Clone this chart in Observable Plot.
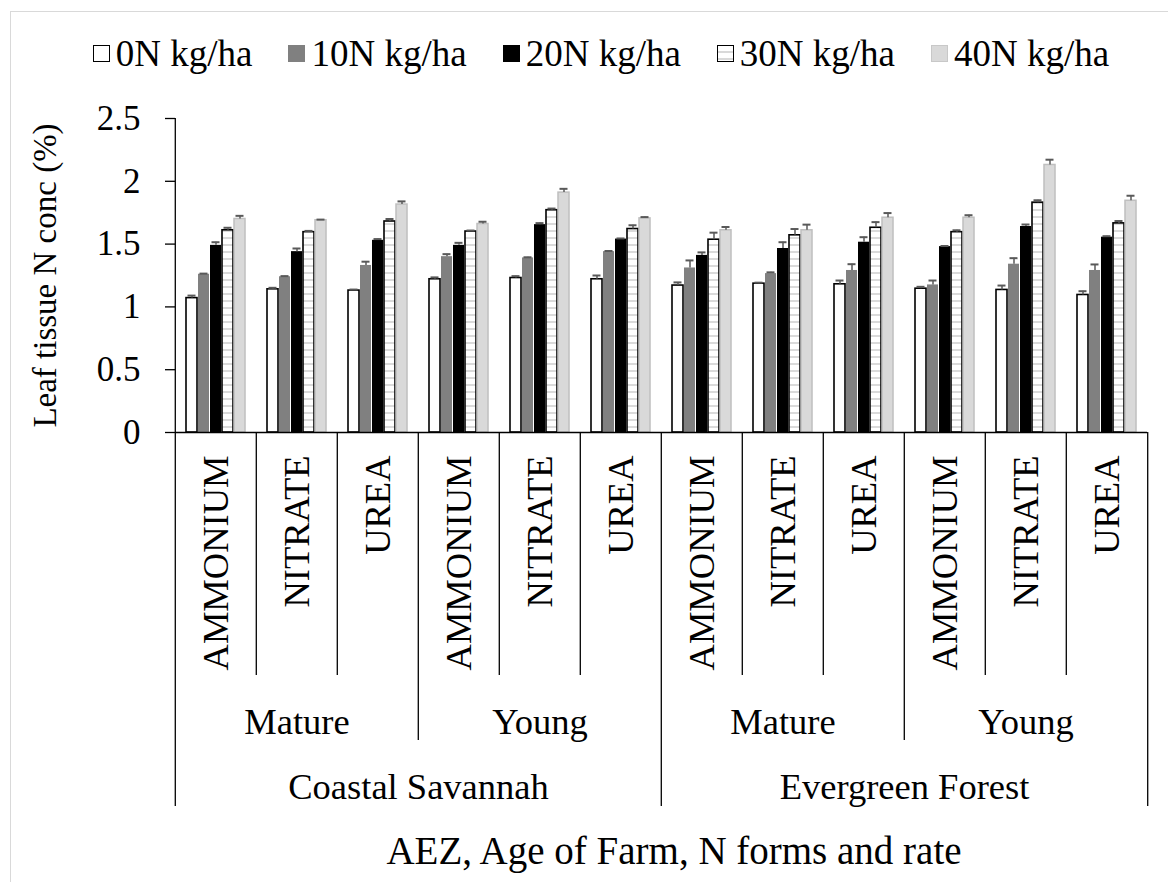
<!DOCTYPE html>
<html>
<head>
<meta charset="utf-8">
<script src="https://cdn.jsdelivr.net/npm/d3@7"></script>
<script src="https://cdn.jsdelivr.net/npm/@observablehq/plot@0.6"></script>
<style>
  html, body { margin: 0; padding: 0; background: #fff; overflow: hidden; }
  body { width: 1168px; height: 882px; position: relative; font-family: "Liberation Serif", "Times New Roman", serif; color: #000; }
  #border { position: absolute; left: 10px; top: 11px; width: 1300px; height: 1000px; border: 1px solid #d9d9d9; pointer-events: none; }
  #legend { position: relative; width: 1202px; height: 80px; padding-top: 26px; box-sizing: border-box; display: flex; align-items: center; justify-content: center; font-size: 37px; line-height: 1; }
  #legend .item { display: flex; align-items: center; margin: 0 18px; white-space: nowrap; }
  #legend .sw { width: 17px; height: 17px; margin-right: 6px; box-sizing: border-box; }
  #chart svg { display: block; }
  #caption { height: 62px; line-height: 62px; padding-left: 180px; width: 1168px; box-sizing: border-box; text-align: center; font-size: 39px; }
</style>
</head>
<body>
<div id="border"></div>
<div id="legend"></div>
<div id="chart"></div>
<div id="caption">AEZ, Age of Farm, N forms and rate</div>
<script>
// Category hierarchy: agro-ecological zone > age of farm > N form
const zones = ["Coastal Savannah", "Evergreen Forest"];
const ages = ["Mature", "Young"];
const forms = ["AMMONIUM", "NITRATE", "UREA"];
const rates = ["0N kg/ha", "10N kg/ha", "20N kg/ha", "30N kg/ha", "40N kg/ha"];
const yTicks = [0, 0.5, 1, 1.5, 2, 2.5];

// Mean leaf tissue N (%) per rate, over the 12 zone × age × form groups
const n0  = [1.07, 1.14, 1.13, 1.22, 1.23, 1.22, 1.17, 1.185, 1.18, 1.145, 1.135, 1.095];
const n10 = [1.26, 1.24, 1.33, 1.40, 1.39, 1.44, 1.31, 1.265, 1.29, 1.175, 1.34, 1.29];
const n20 = [1.49, 1.44, 1.53, 1.49, 1.655, 1.54, 1.41, 1.465, 1.515, 1.48, 1.64, 1.555];
const n30 = [1.61, 1.595, 1.68, 1.60, 1.77, 1.62, 1.535, 1.57, 1.63, 1.595, 1.83, 1.665];
const n40 = [1.70, 1.69, 1.815, 1.66, 1.91, 1.705, 1.61, 1.61, 1.71, 1.71, 2.13, 1.845];

// Standard errors (upper bars only)
const e0  = [0.02, 0.012, 0.008, 0.015, 0.015, 0.03, 0.025, 0.008, 0.03, 0.015, 0.035, 0.03];
const e10 = [0.005, 0.005, 0.03, 0.02, 0.005, 0.005, 0.06, 0.01, 0.05, 0.035, 0.048, 0.048];
const e20 = [0.025, 0.025, 0.01, 0.02, 0.012, 0.005, 0.024, 0.05, 0.04, 0.005, 0.016, 0.008];
const e30 = [0.02, 0.01, 0.02, 0.008, 0.013, 0.03, 0.056, 0.05, 0.045, 0.015, 0.019, 0.019];
const e40 = [0.025, 0.005, 0.025, 0.018, 0.03, 0.01, 0.026, 0.045, 0.037, 0.02, 0.042, 0.04];

const means = [n0, n10, n20, n30, n40];
const errors = [e0, e10, e20, e30, e40];

// Bar styling per rate
const rateStyle = {
  [rates[0]]: {fill: "white", stroke: "black", strokeWidth: 1.6},
  [rates[1]]: {fill: "#808080"},
  [rates[2]]: {fill: "black"},
  [rates[3]]: {fill: "url(#stripes)", stroke: "black", strokeWidth: 1.6},
  [rates[4]]: {fill: "#d9d9d9", stroke: "#bfbfbf", strokeWidth: 1.5}
};
const swatchCss = {
  [rates[0]]: "background:#fff;border:1.5px solid #000",
  [rates[1]]: "background:#808080",
  [rates[2]]: "background:#000",
  [rates[3]]: "border:1.5px solid #000;background:repeating-linear-gradient(#fff 0 5px,#d9d9d9 5px 7px)",
  [rates[4]]: "background:#d9d9d9;border:1px solid #c8c8c8"
};

// Build groups and rows
const groups = zones.flatMap(zone => ages.flatMap(age => forms.map(form => ({zone, age, form, key: [zone, age, form].join("|")}))));
groups.forEach((g, i) => (g.index = i));
const keys = groups.map(g => g.key);
const rows = rates.flatMap((rate, r) => groups.map((g, i) => ({key: g.key, rate, value: means[r][i], err: errors[r][i]})));

// Layout
const W = 1168, H = 740;
const marginLeft = 172, marginRight = 19, marginTop = 38, marginBottom = 388;
const facetWidth = (W - marginLeft - marginRight) / keys.length;
const frameHeight = H - marginTop - marginBottom;
const formDrop = 243, ageDrop = 308, zoneDrop = 374;

// Separator lines hanging below the category axis
const sepForm = groups.filter(g => g.form !== forms[0]);
const sepAge = groups.filter(g => g.form === forms[0] && g.age !== ages[0]);
const sepZone = groups.filter(g => g.form === forms[0] && g.age === ages[0] && g.index > 0);
const firstGroup = groups.slice(0, 1);
const lastGroup = groups.slice(-1);
const ageLabels = groups.filter(g => g.form === forms[1]);
const zoneLabels = groups.filter(g => g.age === ages[0] && g.form === forms[forms.length - 1]);

const sep = (data, drop, opts = {}) => Plot.ruleX(data, {
  fx: "key", x: null, dx: -facetWidth / 2, insetTop: frameHeight, insetBottom: -drop,
  stroke: "black", strokeWidth: 1.3, ...opts
});

const chart = Plot.plot({
  width: W,
  height: H,
  marginLeft, marginRight, marginTop, marginBottom,
  style: {fontFamily: '"Liberation Serif", "Times New Roman", serif', fontSize: "33px", color: "black", background: "transparent", overflow: "visible"},
  fx: {domain: keys, padding: 0},
  x: {domain: rates, paddingInner: 0.05, paddingOuter: 0.85, axis: null},
  y: {domain: [0, 2.5]},
  marks: [
    ...rates.map(rate => Plot.barY(rows.filter(d => d.rate === rate), {fx: "key", x: "rate", y: "value", ...rateStyle[rate]})),
    Plot.ruleX(rows, {fx: "key", x: "rate", y1: "value", y2: d => d.value + d.err, stroke: "#595959", strokeWidth: 1.5}),
    Plot.tickY(rows, {fx: "key", x: "rate", y: d => d.value + d.err, stroke: "#595959", strokeWidth: 2, insetLeft: 1.5, insetRight: 1.5}),
    Plot.ruleY([0], {stroke: "black", strokeWidth: 1.3}),
    Plot.axisY({ticks: yTicks, tickFormat: d => String(d), tickSize: 10, tickPadding: 25, fontSize: 35, label: null, strokeWidth: 1.3}),
    Plot.axisFx({anchor: "bottom", tickFormat: k => k.split("|")[2], tickRotate: -90, tickSize: 0, tickPadding: 23, textAnchor: "end", lineAnchor: "middle", fontSize: 36.5, label: null}),
    // y-axis line continuing into the outer separator
    sep(firstGroup, zoneDrop, {insetTop: 0}),
    sep(sepForm, formDrop),
    sep(sepAge, ageDrop),
    sep(sepZone, zoneDrop),
    sep(lastGroup, zoneDrop, {dx: facetWidth / 2}),
    Plot.text(ageLabels, {fx: "key", text: "age", frameAnchor: "bottom", dy: 290, lineAnchor: "middle", fontSize: 36.5}),
    Plot.text(zoneLabels, {fx: "key", text: "zone", frameAnchor: "bottom-right", textAnchor: "middle", dy: 355, lineAnchor: "middle", fontSize: 36.5}),
    Plot.text(firstGroup, {fx: "key", text: () => "Leaf tissue N conc (%)", frameAnchor: "left", rotate: -90, dx: -130, textAnchor: "middle", lineAnchor: "middle", fontSize: 33})
  ]
});

// Horizontal stripe fill used by the 30N bars
const pat = d3.select(chart).insert("defs", ":first-child")
  .append("pattern").attr("id", "stripes").attr("patternUnits", "userSpaceOnUse")
  .attr("width", 10).attr("height", 7);
pat.append("rect").attr("width", 10).attr("height", 7).attr("fill", "white");
pat.append("rect").attr("y", 3).attr("width", 10).attr("height", 2).attr("fill", "#dadada");

document.getElementById("chart").appendChild(chart);

// Legend
const legend = d3.select("#legend");
for (const rate of rates) {
  const item = legend.append("div").attr("class", "item");
  item.append("div").attr("class", "sw").attr("style", swatchCss[rate]);
  item.append("span").text(rate);
}
</script>
</body>
</html>
